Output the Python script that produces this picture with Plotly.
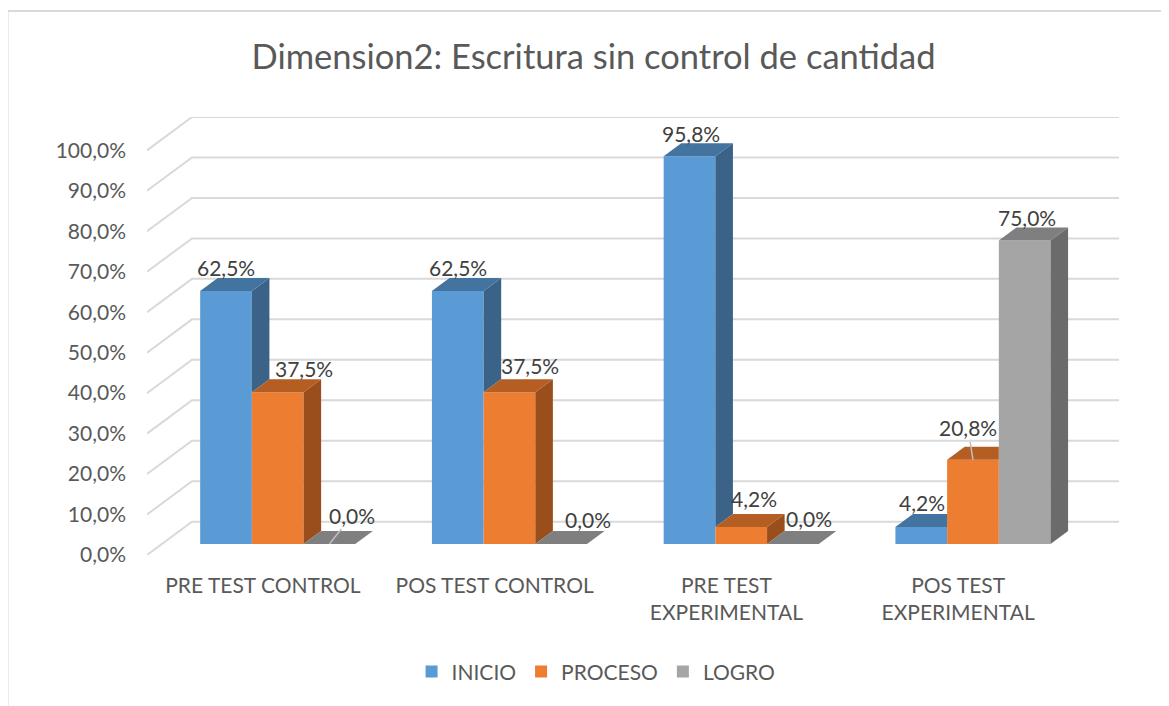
import plotly.graph_objects as go

# ---------------- data ----------------
categories = ["PRE TEST CONTROL", "POS TEST CONTROL",
              "PRE TEST<br>EXPERIMENTAL", "POS TEST<br>EXPERIMENTAL"]
series_names = ["INICIO", "PROCESO", "LOGRO"]
inicio = [62.5, 62.5, 95.8, 4.2]
proceso = [37.5, 37.5, 4.2, 20.8]
logro = [0.0, 0.0, 0.0, 75.0]
y_ticks = [0, 10, 20, 30, 40, 50, 60, 70, 80, 90, 100]
y_tick_labels = ["0,0%", "10,0%", "20,0%", "30,0%", "40,0%", "50,0%",
                 "60,0%", "70,0%", "80,0%", "90,0%", "100,0%"]

series_values = [inicio, proceso, logro]

# ---------------- style ----------------
front_colors = ["#5B9BD5", "#ED7D31", "#A5A5A5"]
top_colors = ["#43739F", "#B45E23", "#7F7F7F"]
side_colors = ["#3A6387", "#9A4E1C", "#6B6B6B"]
FONT = "Lato"
TEXT_GREY = "#595959"

# pseudo-3D geometry (axis units)
DXU = 45 / 231.75      # depth shift in x units (floor front -> back wall)
DYU = 8.24             # depth shift in y units
D0, D1 = 0.33, 0.72    # bar depth range (fraction of floor depth)
BAR_W = 0.2231

# label offsets in pixels (dx, dy) per series per group
label_dx = [[0, 26, 23], [0, 21, 27], [1, 13, 16], [1, -5, 2]]
label_dy = [[24, 24, 29], [24, 27, 25], [23, 29, 26], [25, 32, 23]]
leader = [[False, False, True], [False, False, False],
          [False, False, False], [False, True, False]]


def fmt(v):
    return f"{v:.1f}".replace(".", ",") + "%"


def proj(x, y, d):
    return x + d * DXU, y + d * DYU


fig = go.Figure()

# front faces as real bars
for i, name in enumerate(series_names):
    vals = series_values[i]
    xs = [k + (i - 1) * BAR_W + D0 * DXU for k in range(len(categories))]
    fig.add_trace(go.Bar(
        x=xs, y=vals, base=[D0 * DYU] * len(vals), width=BAR_W,
        name=name, marker=dict(color=front_colors[i], line=dict(width=0)),
        hoverinfo="skip"))

# top and side faces
annotations = []
for k in range(len(categories)):
    for i in range(3):
        v = series_values[i][k]
        v_next = series_values[i + 1][k] if i < 2 else 0.0
        xl = k - 1.5 * BAR_W + i * BAR_W
        xr = xl + BAR_W
        # side face (visible part)
        if v > v_next:
            pts = [proj(xr, v_next, D0), proj(xr, v_next, D1),
                   proj(xr, v, D1), proj(xr, v, D0)]
            fig.add_trace(go.Scatter(
                x=[p[0] for p in pts] + [pts[0][0]],
                y=[p[1] for p in pts] + [pts[0][1]],
                fill="toself", fillcolor=side_colors[i], mode="lines",
                line=dict(width=0, color=side_colors[i]),
                showlegend=False, hoverinfo="skip"))
        # top face
        a = proj(xl, v, D0)
        b = proj(xl, v, D1)
        c = proj(xr, v, D1)
        d = proj(xr, v, D0)
        if i < 2 and v_next > v:
            c = (d[0], b[1])
        pts = [a, b, c, d]
        fig.add_trace(go.Scatter(
            x=[p[0] for p in pts] + [pts[0][0]],
            y=[p[1] for p in pts] + [pts[0][1]],
            fill="toself", fillcolor=top_colors[i], mode="lines",
            line=dict(width=0, color=top_colors[i]),
            showlegend=False, hoverinfo="skip"))
        # data label
        xc = k + (i - 1) * BAR_W + D0 * DXU
        yc = v + D0 * DYU
        if leader[k][i]:
            annotations.append(dict(
                x=xc, y=yc, xref="x", yref="y", text=fmt(v),
                showarrow=True, arrowhead=0, arrowwidth=1.5,
                arrowcolor="#BFBFBF", ax=label_dx[k][i], ay=-label_dy[k][i],
                font=dict(family=FONT, size=21, color="#404040")))
        else:
            annotations.append(dict(
                x=xc, y=yc, xref="x", yref="y", text=fmt(v),
                showarrow=False, xshift=label_dx[k][i],
                yshift=label_dy[k][i], yanchor="middle", xanchor="center",
                font=dict(family=FONT, size=21, color="#404040")))

# gridlines (floor diagonal + back wall)
shapes = []
n = len(categories)
for t in y_ticks:
    p0 = proj(-0.5, t, 0)
    p1 = proj(-0.5, t, 1)
    p2 = proj(n - 0.5, t, 1)
    shapes.append(dict(
        type="path", xref="x", yref="y", layer="below",
        path=f"M {p0[0]},{p0[1]} L {p1[0]},{p1[1]} L {p2[0]},{p2[1]}",
        line=dict(color="#D9D9D9", width=2)))

# chart border
shapes.append(dict(type="rect", xref="paper", yref="paper",
                   x0=-0.1435, x1=1.06, y0=-0.40, y1=1.242,
                   line=dict(color="#D9D9D9", width=2), layer="below"))

fig.update_layout(
    width=1169, height=706,
    margin=dict(l=139, r=58, t=109, b=159),
    paper_bgcolor="white", plot_bgcolor="white",
    barmode="overlay",
    title=dict(text="Dimension2: Escritura sin control de cantidad",
               xref="container", yref="container", x=0.5009, y=0.9306,
               xanchor="center", yanchor="middle",
               font=dict(family=FONT, size=34.5, color=TEXT_GREY)),
    xaxis=dict(range=[-0.5, n - 0.5 + DXU], tickvals=list(range(n)),
               ticktext=categories, showgrid=False, zeroline=False,
               showline=False, ticks="", ticklabelstandoff=16,
               tickfont=dict(family=FONT, size=21, color=TEXT_GREY),
               fixedrange=True),
    yaxis=dict(range=[0, 100 + DYU], tickvals=y_ticks, ticktext=y_tick_labels,
               showgrid=False, zeroline=False, showline=False, ticks="",
               ticklabelstandoff=20,
               tickfont=dict(family=FONT, size=21, color=TEXT_GREY),
               fixedrange=True),
    legend=dict(orientation="h", x=0.462, xanchor="center", y=-0.267,
                yanchor="middle", font=dict(family=FONT, size=21, color=TEXT_GREY),
                itemclick=False, itemdoubleclick=False),
    shapes=shapes,
    annotations=annotations,
    showlegend=True,
)

fig.write_html("out.html")
